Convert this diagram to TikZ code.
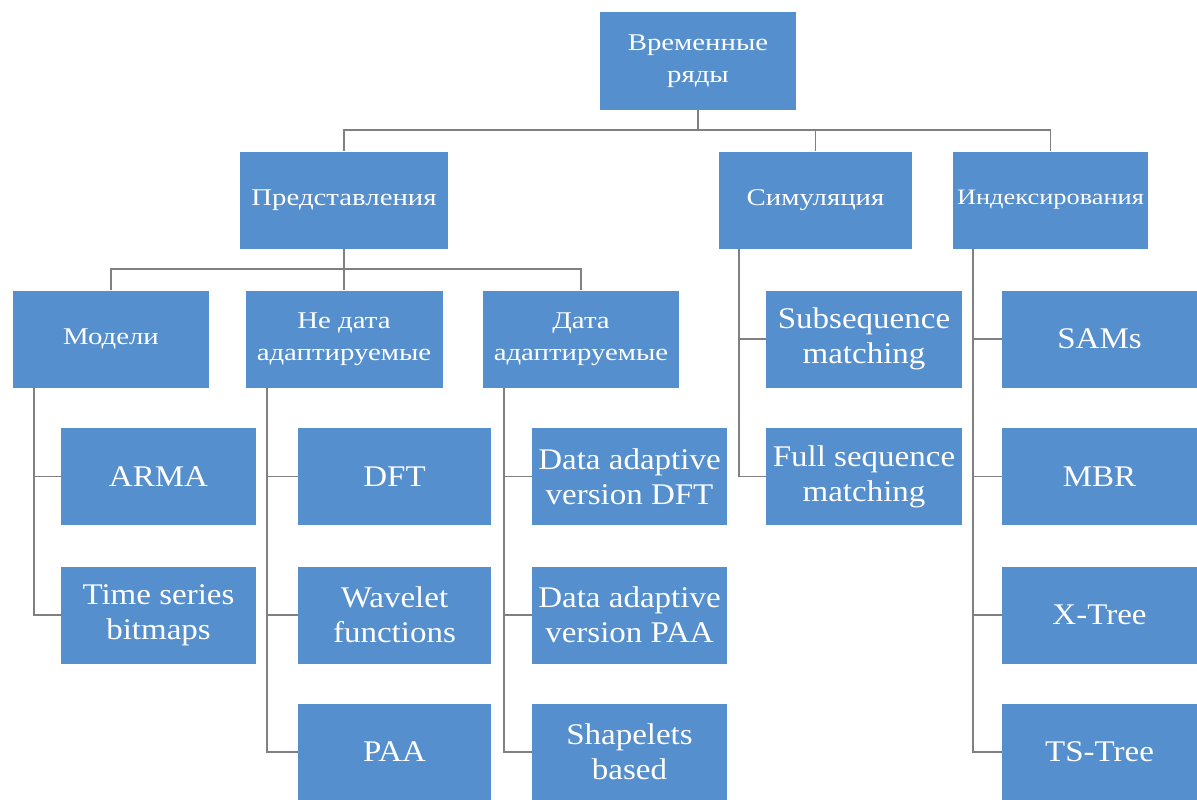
\documentclass[tikz,border=0pt]{standalone}
\usepackage{fontspec}
\setmainfont{Liberation Serif}[FakeStretch=1.1]
\newfontfamily\rufont{Liberation Serif}[FakeStretch=1.2]
\definecolor{boxblue}{RGB}{86,143,205}
\definecolor{linkgray}{RGB}{128,128,128}
\begin{document}
\begin{tikzpicture}[x=1pt,y=-1pt,
  box/.style={fill=boxblue,text=white,inner sep=1pt,align=center,
              minimum height=97pt,minimum width=196pt},
  en/.style={box,font=\fontsize{30}{35}\selectfont},
  ru/.style={box,font=\rufont\fontsize{24}{32}\selectfont},
  link/.style={draw=linkgray,line width=1.8pt}]
\useasboundingbox (0,0) rectangle (1197,800);

% root and first level
\node[ru] (root) at (698,61) {Временные\\ряды};
\node[ru,minimum width=208pt] (pred) at (344,200) {Представления};
\node[ru,minimum width=193pt] (sim) at (815.5,200) {Симуляция};
\node[ru,minimum width=195pt,font=\rufont\fontsize{22}{30}\selectfont] (idx) at (1050.5,200) {Индексирования};

% second level under the representations
\node[ru] (models) at (111,339) {Модели};
\node[ru,minimum width=197pt] (nonad) at (344,339) {Не дата\\адаптируемые};
\node[ru] (adapt) at (581,339) {Дата\\адаптируемые};

% leaves
\node[en,minimum width=195pt] (arma) at (158.5,476.5) {ARMA};
\node[en,minimum width=195pt] (tsb) at (158.5,615) {Time series\\bitmaps};

\node[en,minimum width=193pt] (dft) at (394.5,476.5) {DFT};
\node[en,minimum width=193pt] (wav) at (394.5,615) {Wavelet\\functions};
\node[en,minimum width=193pt] (paa) at (394.5,752) {PAA};

\node[en,minimum width=195pt] (dadft) at (629.5,476.5) {Data adaptive\\version DFT};
\node[en,minimum width=195pt] (dapaa) at (629.5,615) {Data adaptive\\version PAA};
\node[en,minimum width=195pt] (shape) at (629.5,752) {Shapelets\\based};

\node[en] (subseq) at (864,339) {Subsequence\\matching};
\node[en] (full) at (864,476.5) {Full sequence\\matching};

\node[en,minimum width=195pt] (sams) at (1099.5,339) {SAMs};
\node[en,minimum width=195pt] (mbr) at (1099.5,476.5) {MBR};
\node[en,minimum width=195pt] (xt) at (1099.5,615) {X-Tree};
\node[en,minimum width=195pt] (tst) at (1099.5,752) {TS-Tree};

% top bus
\draw[link] (root.south) -- ++(0,21);
\draw[link] (pred.north) -- ++(0,-21) -| (idx.north);
\draw[link] (sim.north) -- ++(0,-21);

% representations bus
\draw[link] (models.north) -- ++(0,-21) -| (adapt.north);
\draw[link] (pred.south) -- (nonad.north);

% spines with side branches
\draw[link] ([xshift=21pt]models.south west) |- (arma.west);
\draw[link] ([xshift=21pt]models.south west) |- (tsb.west);

\draw[link] ([xshift=22pt]nonad.south west) |- (dft.west);
\draw[link] ([xshift=22pt]nonad.south west) |- (wav.west);
\draw[link] ([xshift=22pt]nonad.south west) |- (paa.west);

\draw[link] ([xshift=21pt]adapt.south west) |- (dadft.west);
\draw[link] ([xshift=21pt]adapt.south west) |- (dapaa.west);
\draw[link] ([xshift=21pt]adapt.south west) |- (shape.west);

\draw[link] ([xshift=20pt]sim.south west) |- (subseq.west);
\draw[link] ([xshift=20pt]sim.south west) |- (full.west);

\draw[link] ([xshift=20pt]idx.south west) |- (sams.west);
\draw[link] ([xshift=20pt]idx.south west) |- (mbr.west);
\draw[link] ([xshift=20pt]idx.south west) |- (xt.west);
\draw[link] ([xshift=20pt]idx.south west) |- (tst.west);
\end{tikzpicture}
\end{document}
